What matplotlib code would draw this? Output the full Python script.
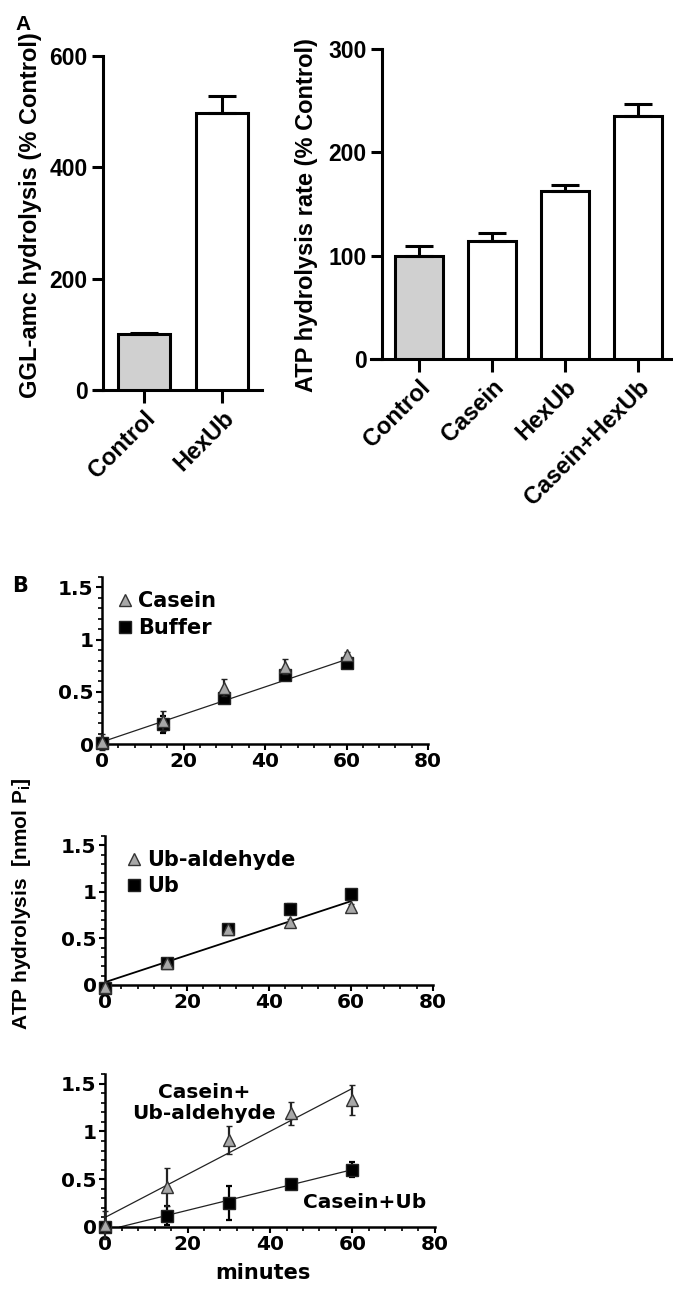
import numpy as np
import matplotlib
matplotlib.use("Agg")
import matplotlib.pyplot as plt
from matplotlib.lines import Line2D
from matplotlib.ticker import MultipleLocator, FuncFormatter

plt.rcParams['font.family'] = ['Liberation Sans', 'DejaVu Sans']
plt.rcParams['font.weight'] = 'bold'
plt.rcParams['mathtext.fontset'] = 'custom'
plt.rcParams['mathtext.rm'] = 'Liberation Sans:bold'
plt.rcParams['mathtext.it'] = 'Liberation Sans:bold'
plt.rcParams['mathtext.bf'] = 'Liberation Sans:bold'

# panel A data
ggl_cats = ["Control", "HexUb"]
ggl_vals = [100, 497]
ggl_err = [3, 31]

atp_cats = ["Control", "Casein", "HexUb", "Casein+HexUb"]
atp_vals = [100, 114, 163, 235]
atp_err = [9, 8, 5, 12]

# panel B data
t = [0, 15, 30, 45, 60]
casein = [0.02, 0.22, 0.54, 0.74, 0.85]
casein_err = [0.08, 0.10, 0.08, 0.07, 0.03]
buffer_ = [0.01, 0.19, 0.44, 0.66, 0.78]
buffer_err = [0.05, 0.08, 0.03, 0.03, 0.02]
fit1 = [0.02, 0.81]

ubald = [-0.02, 0.24, 0.60, 0.68, 0.84]
ubald_err = [0.02, 0.02, 0.02, 0.03, 0.03]
ub = [-0.03, 0.24, 0.60, 0.82, 0.98]
ub_err = [0.02, 0.02, 0.02, 0.05, 0.03]
fit2 = [0.03, 0.90]

cas_ubald = [0.02, 0.42, 0.91, 1.19, 1.33]
cas_ubald_err = [0.15, 0.20, 0.15, 0.12, 0.16]
cas_ub = [0.0, 0.12, 0.25, 0.45, 0.60]
cas_ub_err = [0.02, 0.10, 0.18, 0.03, 0.08]
fit3a_x = [0, 60]
fit3a = [0.10, 1.45]
fit3b_x = [3.6, 60]
fit3b = [0.0, 0.60]

W, H = 673, 1299
fig = plt.figure(figsize=(W / 100, H / 100), dpi=100)

WIDE = 'DejaVu Sans'   # panel B text looks horizontally stretched


def px_axes(x0, x1, ytop, ybot):
    return fig.add_axes([x0 / W, 1 - ybot / H, (x1 - x0) / W, (ybot - ytop) / H])


def style_bar_axes(ax, xlo, xhi, ext):
    for s in ['top', 'right']:
        ax.spines[s].set_visible(False)
    for s in ['left', 'bottom']:
        ax.spines[s].set_linewidth(2.2)
    ax.set_xlim(xlo, xhi)
    ax.spines['bottom'].set_bounds(xlo - ext, xhi)
    ax.tick_params(axis='both', width=2.2, length=8, pad=3)
    ax.tick_params(axis='y', labelsize=16.5)
    ax.tick_params(axis='x', labelsize=17, length=9)


# Panel A left
ax1 = px_axes(103, 262, 56, 390)
x = np.arange(len(ggl_cats))
ax1.bar(x, ggl_vals, width=0.667, color=['#d0d0d0', 'white'], edgecolor='black',
        linewidth=2.2, yerr=[[0, 0], ggl_err], capsize=10,
        error_kw=dict(elinewidth=2.2, capthick=2.2, ecolor='black'), zorder=3)
ax1.set_ylim(0, 600)
ax1.set_yticks([0, 200, 400, 600])
ax1.set_xticks(x)
ax1.set_xticklabels(ggl_cats, rotation=45, ha='right', rotation_mode='anchor')
style_bar_axes(ax1, -0.526, 1.51, 0.1)
fig.text(31 / W, 1 - 215 / H, "GGL-amc hydrolysis (% Control)", rotation=90,
         fontsize=17, fontweight='bold', ha='center', va='center')

# Panel A right
ax2 = px_axes(382, 672, 49, 359)
x = np.arange(len(atp_cats))
ax2.bar(x, atp_vals, width=0.655, color=['#d0d0d0', 'white', 'white', 'white'],
        edgecolor='black', linewidth=2.2, yerr=[[0] * 4, atp_err], capsize=10,
        error_kw=dict(elinewidth=2.2, capthick=2.2, ecolor='black'), zorder=3)
ax2.set_ylim(0, 300)
ax2.set_yticks([0, 100, 200, 300])
ax2.set_xticks(x)
ax2.set_xticklabels(atp_cats, rotation=45, ha='right', rotation_mode='anchor')
style_bar_axes(ax2, -0.505, 3.47, 0.15)
fig.text(307 / W, 1 - 215 / H, "ATP hydrolysis rate (% Control)", rotation=90,
         fontsize=17, fontweight='bold', ha='center', va='center')

fig.text(23 / W, 1 - 24 / H, "A", fontsize=15, fontweight='bold', ha='center', va='center')
fig.text(20 / W, 1 - 586 / H, "B", fontsize=15, fontweight='bold', ha='center',
         va='center', family=WIDE)

# Panel B
fmt = FuncFormatter(lambda v, p: ("%g" % v))


def style_line_axes(ax):
    for s in ['top', 'right']:
        ax.spines[s].set_visible(False)
    for s in ['left', 'bottom']:
        ax.spines[s].set_linewidth(1.8)
    ax.set_xlim(0, 80)
    ax.set_ylim(0, 1.6)
    ax.set_xticks([0, 20, 40, 60, 80])
    ax.set_yticks([0, 0.5, 1, 1.5])
    ax.yaxis.set_major_formatter(fmt)
    ax.xaxis.set_minor_locator(MultipleLocator(4))
    ax.yaxis.set_minor_locator(MultipleLocator(0.1))
    ax.tick_params(axis='both', which='major', width=1.5, length=4, labelsize=14.5, pad=2)
    ax.tick_params(axis='both', which='minor', width=1.2, length=3)
    for lab in ax.get_xticklabels() + ax.get_yticklabels():
        lab.set_family(WIDE)
        lab.set_weight('bold')


tri = dict(marker='^', markersize=9, markerfacecolor='#a8a8a8', markeredgecolor='#333333',
           markeredgewidth=1.0, linestyle='none', ecolor='#222222', elinewidth=1.6,
           capsize=2.5, capthick=1.6, clip_on=False, zorder=4)
sq = dict(marker='s', markersize=8, markerfacecolor='black', markeredgecolor='#222222',
          linestyle='none', ecolor='black', elinewidth=1.6, capsize=2.5, capthick=1.6,
          clip_on=False, zorder=3)

tri_h = Line2D([], [], marker='^', markersize=8, markerfacecolor='#a8a8a8',
               markeredgecolor='#333333', linestyle='none')
sq_h = Line2D([], [], marker='s', markersize=8, markerfacecolor='black',
              markeredgecolor='#222222', linestyle='none')
leg_font = dict(family=WIDE, weight='bold', size=15)

b1 = px_axes(102, 428, 577, 744)
b1.plot([0, 60], fit1, color='#222222', lw=0.9, zorder=2)
b1.errorbar(t, buffer_, yerr=buffer_err, **sq)
b1.errorbar(t, casein, yerr=casein_err, **tri)
style_line_axes(b1)
b1.legend([tri_h, sq_h], ["Casein", "Buffer"], loc='upper left', bbox_to_anchor=(0.0, 0.99),
          frameon=False, prop=leg_font, handletextpad=0.15, handlelength=1.0,
          labelspacing=0.35, borderaxespad=0.2)

b2 = px_axes(105, 433, 836, 985)
b2.plot([0, 60], fit2, color='black', lw=1.3, zorder=2)
b2.errorbar(t, ub, yerr=ub_err, **sq)
b2.errorbar(t, ubald, yerr=ubald_err, **tri)
style_line_axes(b2)
b2.legend([tri_h, sq_h], ["Ub-aldehyde", "Ub"], loc='upper left', bbox_to_anchor=(0.02, 0.99),
          frameon=False, prop=leg_font, handletextpad=0.1, handlelength=1.0,
          labelspacing=0.3, borderaxespad=0.2)

b3 = px_axes(105, 435, 1074, 1227)
b3.plot(fit3a_x, fit3a, color='#222222', lw=0.9, zorder=2)
b3.plot(fit3b_x, fit3b, color='#222222', lw=0.9, zorder=2)
b3.errorbar(t, cas_ub, yerr=cas_ub_err, **sq)
b3.errorbar(t, cas_ubald, yerr=cas_ubald_err, **tri)
style_line_axes(b3)
b3.text(24, 1.3, "Casein+\nUb-aldehyde", fontsize=14.5, fontweight='bold', family=WIDE,
        ha='center', va='center', linespacing=1.15)
b3.text(63, 0.26, "Casein+Ub", fontsize=14.5, fontweight='bold', family=WIDE,
        ha='center', va='center')

fig.text(22 / W, 1 - 904 / H, "ATP hydrolysis  [nmol P$_\\mathrm{i}$]", rotation=90,
         fontsize=15, fontweight='bold', ha='center', va='center')
fig.text(263 / W, 1 - 1273 / H, "minutes", fontsize=15, fontweight='bold', family=WIDE,
         ha='center', va='center')

fig.savefig("out.png", dpi=100)
